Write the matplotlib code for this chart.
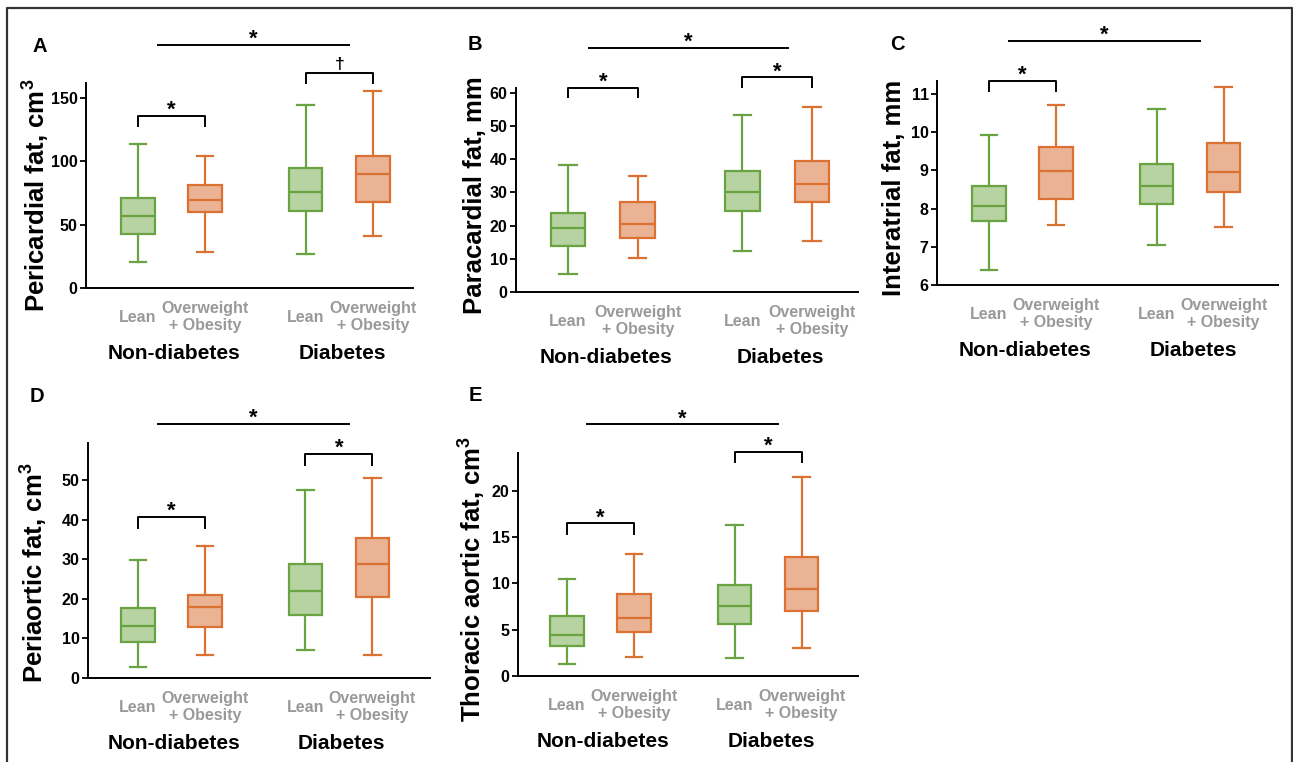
import numpy as np
import matplotlib
matplotlib.use("Agg")
import matplotlib.pyplot as plt
from matplotlib.lines import Line2D

plt.rcParams['font.family'] = ['Liberation Sans', 'DejaVu Sans']
plt.rcParams['font.weight'] = 'bold'
plt.rcParams['mathtext.fontset'] = 'custom'
plt.rcParams['mathtext.rm'] = 'Liberation Sans:bold'
plt.rcParams['mathtext.it'] = 'Liberation Sans:bold'
plt.rcParams['mathtext.bf'] = 'Liberation Sans:bold'

# box stats per group: whisker low, Q1, median, Q3, whisker high
# order: lean non-diab, overweight non-diab, lean diab, overweight diab
pericardial = [[20.2, 42.7, 56.9, 71.3, 113.8],
               [28.3, 59.8, 69.5, 81.6, 104.1],
               [26.7, 60.6, 75.8, 94.7, 144.8],
               [41.4, 68.2, 90.0, 104.4, 155.3]]
paracardial = [[5.5, 13.8, 19.2, 23.9, 38.2],
               [10.4, 16.2, 20.5, 27.0, 35.0],
               [12.3, 24.5, 30.0, 36.4, 53.3],
               [15.5, 27.2, 32.5, 39.6, 55.9]]
interatrial = [[6.39, 7.68, 8.06, 8.59, 9.92],
               [7.57, 8.26, 8.98, 9.60, 10.72],
               [7.06, 8.13, 8.60, 9.17, 10.62],
               [7.52, 8.43, 8.97, 9.73, 11.19]]
periaortic = [[2.8, 9.2, 13.1, 17.7, 29.8],
              [5.9, 12.9, 18.0, 21.1, 33.4],
              [7.1, 16.0, 21.9, 28.8, 47.4],
              [5.9, 20.6, 28.8, 35.3, 50.6]]
thoracic = [[1.3, 3.2, 4.4, 6.5, 10.5],
            [2.1, 4.8, 6.3, 8.9, 13.2],
            [1.9, 5.6, 7.6, 9.8, 16.3],
            [3.0, 7.0, 9.4, 12.9, 21.5]]

ylabels = ['Pericardial fat, cm$^3$', 'Paracardial fat, mm', 'Interatrial fat, mm',
           'Periaortic fat, cm$^3$', 'Thoracic aortic fat, cm$^3$']
letters = ['A', 'B', 'C', 'D', 'E']
group_labels = ['Lean', 'Overweight\n+ Obesity', 'Lean', 'Overweight\n+ Obesity']
status_labels = ['Non-diabetes', 'Diabetes']

# significance marks: (non-diabetes bracket, diabetes bracket, top line) heights and symbols
sig_nd = [(135.8, '*'), (61.6, '*'), (11.34, '*'), (40.8, '*'), (16.5, '*')]
sig_d = [(170, '\u2020'), (64.7, '*'), None, (56.6, '*'), (24.25, '*')]
sig_top = [192, 73.7, 12.40, 64.3, 27.2]

all_stats = [pericardial, paracardial, interatrial, periaortic, thoracic]

# layout (pixels: left, top, right, bottom)
W, H = 1293, 762
rects = [(86, 83, 413, 288), (516, 88, 858, 292), (937, 81, 1278, 285),
         (88, 443, 430, 678), (518, 453, 858, 676)]
xlims = [(0.225, 5.10), (0.254, 5.16), (0.225, 5.31), (0.253, 5.36), (0.27, 5.34)]
ylims = [(0, 162), (0, 61.5), (6, 11.34), (0, 59.4), (0, 24.1)]
yticks = [[0, 50, 100, 150], [0, 10, 20, 30, 40, 50, 60], [6, 7, 8, 9, 10, 11],
          [0, 10, 20, 30, 40, 50], [0, 5, 10, 15, 20]]
letter_pos = [(40, 46), (475, 45), (897, 45), (37, 397), (475, 395)]
label_x = [-0.105, -0.086, -0.09, -0.11, -0.087]
label_y = [0.45, 0.475, 0.475, 0.45, 0.435]

positions = [1, 2, 3.5, 4.5]
green_edge, green_fill = '#6aa342', '#b7d3a1'
orange_edge, orange_fill = '#dc7134', '#e9b394'
edges = [green_edge, orange_edge, green_edge, orange_edge]
fills = [green_fill, orange_fill, green_fill, orange_fill]

fig = plt.figure(figsize=(W / 100, H / 100), dpi=100)

for i, stats in enumerate(all_stats):
    l, t, r, b = rects[i]
    ax = fig.add_axes([l / W, 1 - b / H, (r - l) / W, (b - t) / H])
    for k, row in enumerate(stats):
        st = [dict(whislo=row[0], q1=row[1], med=row[2], q3=row[3], whishi=row[4], fliers=[])]
        ax.bxp(st, positions=[positions[k]], widths=0.5, patch_artist=True, showfliers=False,
               boxprops=dict(facecolor=fills[k], edgecolor=edges[k], linewidth=1.6),
               medianprops=dict(color=edges[k], linewidth=1.6),
               whiskerprops=dict(color=edges[k], linewidth=1.6),
               capprops=dict(color=edges[k], linewidth=1.6), capwidths=0.25)
    ax.set_xlim(*xlims[i])
    ax.set_ylim(*ylims[i])
    ax.set_yticks(yticks[i])
    ax.set_xticks([])
    for s in ['top', 'right']:
        ax.spines[s].set_visible(False)
    for s in ['left', 'bottom']:
        ax.spines[s].set_linewidth(1.4)
    ax.tick_params(axis='y', length=4, width=1.3, labelsize=11.5, pad=2)
    ax.set_ylabel(ylabels[i], fontsize=18.5, fontweight='bold')
    ax.yaxis.set_label_coords(label_x[i], label_y[i])

    for k in range(4):
        ax.annotate(group_labels[k], xy=(positions[k], 0), xycoords=('data', 'axes fraction'),
                    xytext=(0, -21), textcoords='offset points', ha='center', va='center',
                    fontsize=11.5, color='#999999', fontweight='bold', linespacing=1.2)
    for g in range(2):
        ax.annotate(status_labels[g], xy=((positions[2 * g] + positions[2 * g + 1]) / 2, 0),
                    xycoords=('data', 'axes fraction'), xytext=(2, -47),
                    textcoords='offset points', ha='center', va='center', fontsize=15,
                    fontweight='bold')

    span = ylims[i][1] - ylims[i][0]
    for g, sig in enumerate([sig_nd[i], sig_d[i]]):
        if sig is None:
            continue
        y, sym = sig
        x1, x2 = positions[2 * g], positions[2 * g + 1]
        leg = y - 0.048 * span
        ax.plot([x1, x1, x2, x2], [leg, y, y, leg], color='black', lw=1.4, clip_on=False)
        ax.annotate(sym, xy=((x1 + x2) / 2, y), xytext=(0, 0 if sym == '*' else 3),
                    textcoords='offset points', ha='center', va='baseline',
                    fontsize=16 if sym == '*' else 12.5, fontweight='bold', annotation_clip=False)
    yt = sig_top[i]
    ax.plot([1.3, 4.15], [yt, yt], color='black', lw=1.4, clip_on=False)
    ax.annotate('*', xy=(2.72, yt), xytext=(0, 0), textcoords='offset points', ha='center',
                va='baseline', fontsize=16, fontweight='bold', annotation_clip=False)

    fig.text(letter_pos[i][0] / W, 1 - letter_pos[i][1] / H, letters[i], fontsize=14.5,
             fontweight='bold', ha='center', va='center')

# outer frame (left, top, right)
fig.add_artist(Line2D([7 / W, 7 / W, 1292 / W, 1292 / W], [0, 1 - 8 / H, 1 - 8 / H, 0],
                      color='#333333', lw=1.6))

fig.savefig('out.png', dpi=100)
